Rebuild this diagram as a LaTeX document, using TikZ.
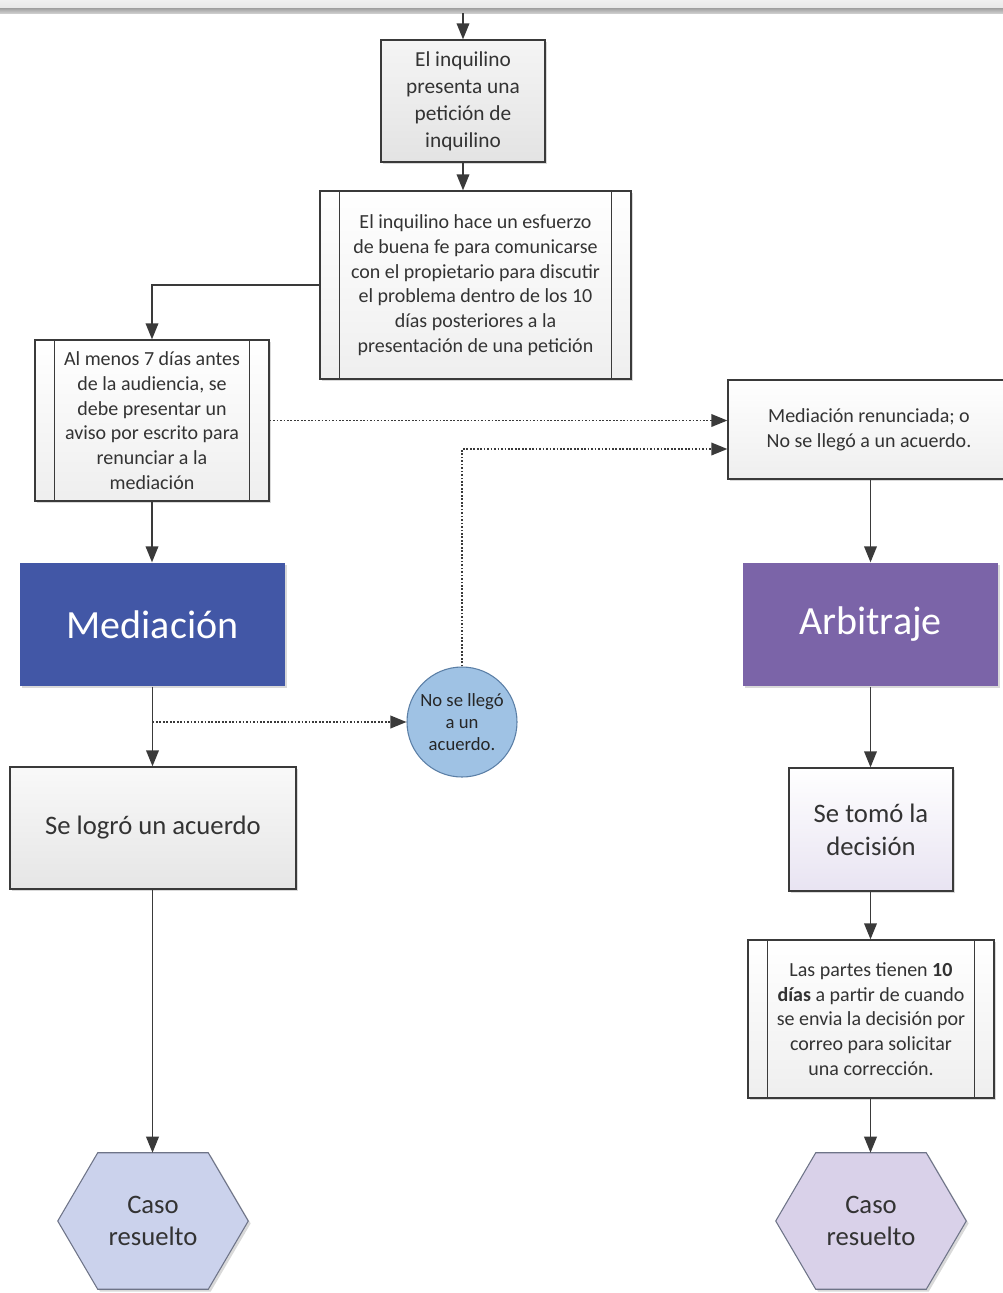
\documentclass[tikz,border=0pt]{standalone}
\usepackage{fontspec}
\setmainfont{Carlito}
\usetikzlibrary{arrows.meta,calc,shadows,backgrounds}
\definecolor{edge}{HTML}{3A3A3A}
\definecolor{txt}{HTML}{333333}
\definecolor{medblue}{HTML}{4257A6}
\definecolor{arbpurple}{HTML}{7B64A8}
\definecolor{circfill}{HTML}{9FC2E4}
\definecolor{circedge}{HTML}{5B7FA6}
\definecolor{hexblue}{HTML}{CBD2EC}
\definecolor{hexpurple}{HTML}{D9D1E9}
\definecolor{hexedge}{HTML}{6E7488}
\begin{document}
\begin{tikzpicture}[x=0.75pt,y=-0.75pt,
  shd/.style={drop shadow={shadow xshift=1.8pt,shadow yshift=-1.8pt,opacity=0.3}},
  box/.style={draw=edge, line width=1pt, align=center, text=txt, inner sep=0pt, shd},
  lightbox/.style={box, top color=white, bottom color=gray!13},
  graybox/.style={box, top color=gray!8, bottom color=gray!22},
  smalltext/.style={font=\fontsize{15}{18.5}\selectfont},
  bigtext/.style={font=\fontsize{20}{24.75}\selectfont},
  title/.style={box, draw=none, text=white, font=\fontsize{30}{36}\selectfont},
  arr/.style={draw=edge, line width=1.1pt, -{Triangle[length=12pt,width=9.5pt]}},
  dotarr/.style={arr, dash pattern=on 1.3pt off 1.3pt},
  hexnode/.style={align=center, text=txt, inner sep=0pt, minimum width=142.5pt, minimum height=102pt, font=\fontsize{20}{24}\selectfont}
]
\clip (0,0) rectangle (1003,1293);
% top bar
\node[inner sep=0pt, minimum width=752.25pt, minimum height=9.75pt, top color=gray!12, bottom color=gray!22] (bar) at (501.5,6.5) {};
\fill[top color=gray!75, bottom color=gray!40] (0,8) rectangle (1003,13);

% nodes
\node[graybox, minimum width=123pt, minimum height=91.5pt, font=\fontsize{16}{20.25}\selectfont] (b1) at (463,101)
  {El inquilino\\presenta una\\petición de\\inquilino};
\node[lightbox, smalltext, minimum width=233.25pt, minimum height=141pt] (b2) at (475.5,285)
  {El inquilino hace un esfuerzo\\de buena fe para comunicarse\\con el propietario para discutir\\el problema dentro de los 10\\días posteriores a la\\presentación de una petición};
\node[lightbox, smalltext, minimum width=175.5pt, minimum height=120.75pt] (b3) at (152,420.5)
  {Al menos 7 días antes\\de la audiencia, se\\debe presentar un\\aviso por escrito para\\renunciar a la\\mediación};
\node[lightbox, smalltext, minimum width=211.5pt, minimum height=74.25pt] (b4) at (869,429.5)
  {Mediación renunciada; o\\No se llegó a un acuerdo.};
\node[title, fill=medblue, minimum width=198.75pt, minimum height=92.25pt] (med) at (152.5,624.5) {Mediación};
\node[title, fill=arbpurple, minimum width=191.25pt, minimum height=92.25pt] (arb) at (870.5,624.5) {Arbitraje};
\node[circle, draw=circedge, line width=0.8pt, fill=circfill, minimum size=82.5pt, inner sep=0pt, align=center,
  text=black!85, font=\fontsize{14}{16.25}\selectfont] (circ) at (462,722) {No se llegó\\a un\\acuerdo.};
\node[graybox, bigtext, top color=gray!5, bottom color=gray!20, minimum width=214.5pt, minimum height=91.5pt] (logro) at (153,828)
  {Se logró un acuerdo};
\node[box, bigtext, top color=white, bottom color=hexpurple!60, minimum width=123pt, minimum height=92.25pt] (tomo) at (871,829.5)
  {Se tomó la\\decisión};
\node[lightbox, smalltext, minimum width=184.5pt, minimum height=118.5pt] (b6) at (871,1019)
  {Las partes tienen \textbf{10}\\\textbf{días} a partir de cuando\\se envia la decisión por\\correo para solicitar\\una corrección.};
\node[hexnode] (hexL) at (153,1221) {Caso\\resuelto};
\node[hexnode] (hexR) at (871,1221) {Caso\\resuelto};

% predefined-process inner lines
\foreach \n in {b2,b3,b6}{
  \draw[edge, line width=1pt] ($(\n.north west)+(20,0)$) -- ($(\n.south west)+(20,0)$);
  \draw[edge, line width=1pt] ($(\n.north east)+(-20,0)$) -- ($(\n.south east)+(-20,0)$);
}

% hexagons
\begin{scope}[on background layer]
\foreach \n/\c in {hexL/hexblue,hexR/hexpurple}{
  \filldraw[draw=hexedge, line width=0.8pt, fill=\c, shd]
    (\n.west) -- ($(\n.north west)+(40,0)$) -- ($(\n.north east)+(-40,0)$) -- (\n.east)
    -- ($(\n.south east)+(-40,0)$) -- ($(\n.south west)+(40,0)$) -- cycle;
}
\end{scope}

% connectors
\draw[arr] (bar.south -| b1.north) -- (b1.north);
\draw[arr] (b1.south) -- (b1.south |- b2.north);
\draw[arr] (b2.west) -| (b3.north);
\draw[dotarr] (b3.east) -- (b3.east -| b4.west);
\draw[dotarr] (circ.north) |- ($(b4.west)+(0,19.5)$);
\draw[arr] (b3.south) -- (med.north -| b3.south);
\draw[arr] (med.south) -- (logro.north -| med.south);
\draw[dotarr] (circ.west -| med.south) -- (circ.west);
\draw[arr] (logro.south -| med.south) -- (hexL.north -| med.south);
\draw[arr] (b4.south -| arb.north) -- (arb.north);
\draw[arr] (arb.south) -- (tomo.north -| arb.south);
\draw[arr] (tomo.south -| arb.south) -- (b6.north -| arb.south);
\draw[arr] (b6.south -| arb.south) -- (hexR.north -| arb.south);
\end{tikzpicture}
\end{document}
